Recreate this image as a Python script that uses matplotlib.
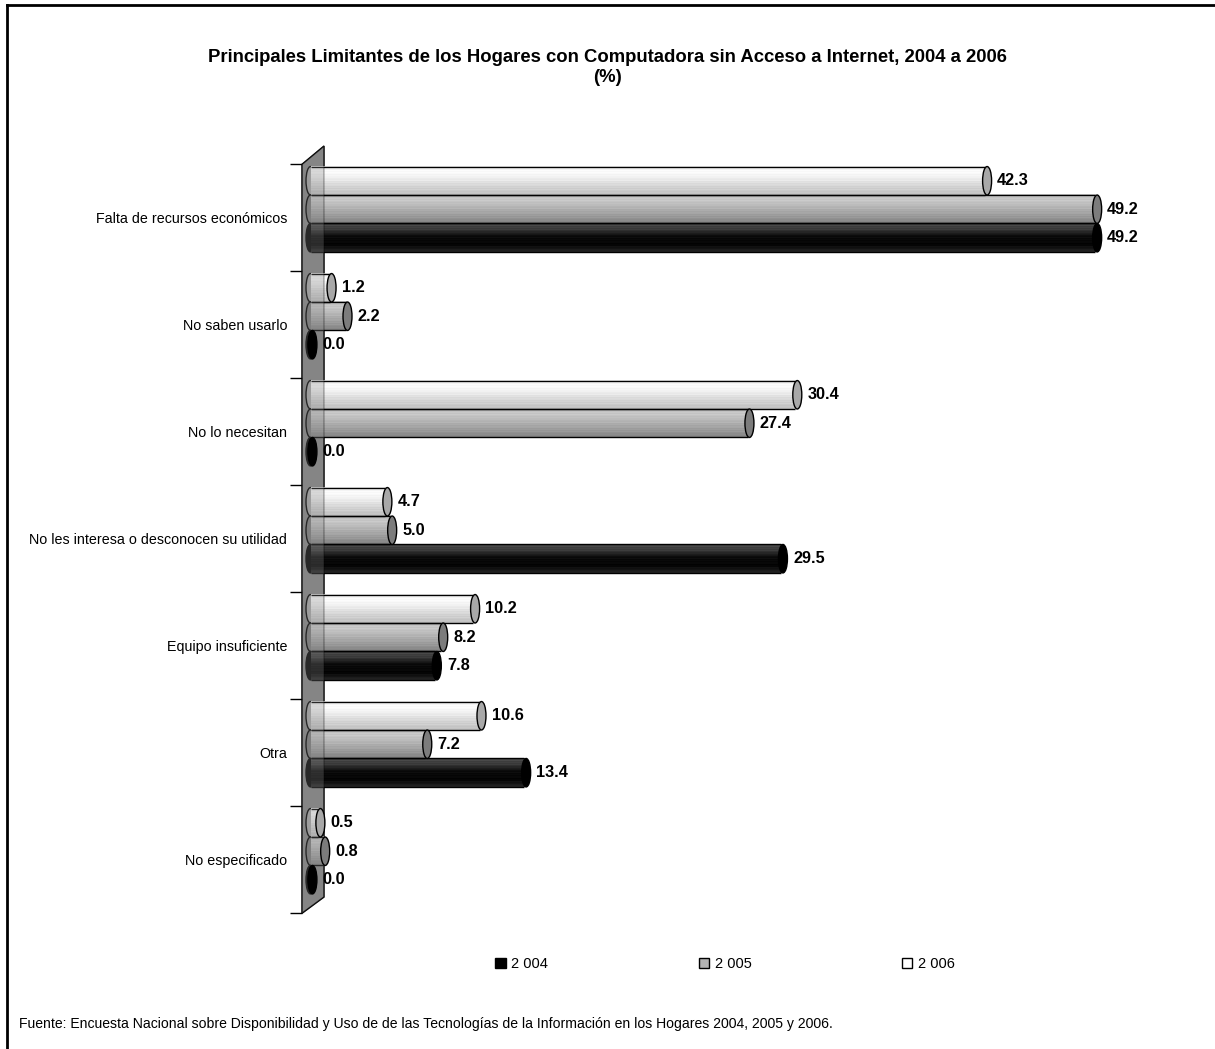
import numpy as np
import matplotlib
matplotlib.use("Agg")
import matplotlib.pyplot as plt
from matplotlib.patches import Ellipse, Polygon, Patch
from matplotlib.lines import Line2D

plt.rcParams['font.family'] = ['Liberation Sans', 'DejaVu Sans']

# --- data -------------------------------------------------------------
categorias = ["Falta de recursos económicos", "No saben usarlo", "No lo necesitan",
              "No les interesa o desconocen su utilidad", "Equipo insuficiente",
              "Otra", "No especificado"]
anios = ["2 004", "2 005", "2 006"]
v2004 = [49.2, 0.0, 0.0, 29.5, 7.8, 13.4, 0.0]
v2005 = [49.2, 2.2, 27.4, 5.0, 8.2, 7.2, 0.8]
v2006 = [42.3, 1.2, 30.4, 4.7, 10.2, 10.6, 0.5]

titulo = "Principales Limitantes de los Hogares con Computadora sin Acceso a Internet, 2004 a 2006"
subtitulo = "(%)"
fuente = ("Fuente: Encuesta Nacional sobre Disponibilidad y Uso de de las Tecnologías "
          "de la Información en los Hogares 2004, 2005 y 2006.")

W, H = 1215, 1049
fig = plt.figure(figsize=(W / 100, H / 100), dpi=100)

def fx(px):
    return px / W

def fy(py):
    return 1 - py / H

# plot area in pixels: zero of the value axis at x=310.5, 15.95 px per unit,
# 107 px per category
x_left, x_right, y_top, y_bot = 290, 1200, 140, 935
ax = fig.add_axes([fx(x_left), fy(y_bot), fx(x_right - x_left), (y_bot - y_top) / H])

# series drawn per category from top to bottom: 2006, 2005, 2004
h = 0.266
series = [
    # values, offset, shading stops, cap colour, legend face
    (v2006, -0.346, [(0, .96), (.2, 1.0), (.45, .93), (.7, .84), (1, .76)], '#a8a8a8', 'white'),
    (v2005, -0.080, [(0, .80), (.25, .78), (.5, .70), (.75, .62), (1, .52)], '#7c7c7c', '#b4b4b4'),
    (v2004, 0.186, [(0, .30), (.2, .24), (.45, .05), (.75, .02), (1, .16)], '#000000', 'black'),
]

def shade(stops, n=48):
    t = np.linspace(0, 1, n)
    g = np.interp(t, [s[0] for s in stops], [s[1] for s in stops])
    # thin horizontal streaks like the old office renderer
    streak = np.where(np.arange(n) % 4 == 1, -0.05, 0.0) + np.where(np.arange(n) % 7 == 3, 0.04, 0.0)
    return np.clip(g + streak, 0, 1).reshape(-1, 1)

cap_w = 9 / 15.95
pos = np.arange(len(categorias))

# side wall behind the bars
wall_pts = [(-0.533, -0.5), (0.846, -0.671), (0.846, 6.348), (-0.533, 6.5)]
ax.add_patch(Polygon(wall_pts, closed=True, facecolor='#858585', edgecolor='black', lw=1, zorder=1))

for vals, off, stops, cap, _ in series:
    ys = pos + off
    bars = ax.barh(ys, vals, height=h, color='none', edgecolor='none', zorder=3)
    img = shade(stops)
    for rect, v in zip(bars, vals):
        y0 = rect.get_y()
        y1 = y0 + rect.get_height()
        yc = (y0 + y1) / 2
        wdt = rect.get_width()
        # base of the cylinder
        ax.add_patch(Ellipse((0, yc), cap_w, h, facecolor=cap, edgecolor='black', lw=1, zorder=2))
        if wdt > 0:
            ax.imshow(img, cmap='gray', vmin=0, vmax=1, aspect='auto', origin='upper',
                      extent=(0, wdt, y1, y0), interpolation='bilinear', zorder=3)
            ax.hlines([y0, y1], 0, wdt, colors='black', lw=1, zorder=3.5)
        # top of the cylinder
        ax.add_patch(Ellipse((wdt + 0.12, yc), cap_w, h, facecolor=cap, edgecolor='black',
                             lw=1, zorder=5.5))
        ax.annotate(f"{v:.1f}", (wdt, yc), xytext=(12, 0), textcoords='offset pixels',
                    ha='left', va='center', fontsize=11.7, fontweight='bold', zorder=6)

# wall seen through the front of the bars
ax.add_patch(Polygon(wall_pts, closed=True, facecolor='#858585', edgecolor='black',
                     lw=1, alpha=0.3, zorder=5))

ax.set_xlim((x_left - 310.5) / 15.95, (x_right - 310.5) / 15.95)
ax.set_ylim(-0.5 + (y_bot - 164.3) / 107, -0.5 - (164.3 - y_top) / 107)
for s in ax.spines.values():
    s.set_visible(False)
ax.set_xticks([])
ax.set_yticks(np.arange(-0.5, len(categorias), 1.0))
ax.set_yticklabels([])
ax.tick_params(axis='y', which='major', direction='in', length=12 * 0.72, width=1, color='black')
ax.set_yticks(pos, categorias, minor=True)
ax.tick_params(axis='y', which='minor', length=0, pad=2, labelsize=10.25)

# legend
handles = [Patch(facecolor=s[4], edgecolor='black', lw=1) for s in series[::-1]]
fig.legend(handles, anios, loc='center', bbox_to_anchor=(fx(725), fy(964)), ncol=3,
           frameon=False, fontsize=10.5, handlelength=0.7, handleheight=0.7,
           handletextpad=0.4, columnspacing=10.3)

fig.text(fx(607), fy(57), titulo, ha='center', va='center', fontsize=13.3, fontweight='bold')
fig.text(fx(607), fy(77), subtitulo, ha='center', va='center', fontsize=13.3, fontweight='bold')
fig.text(fx(19), fy(1024), fuente, ha='left', va='center', fontsize=10.1)

# frame lines along the top and left edges
fig.add_artist(Line2D([fx(7), 1], [fy(5), fy(5)], color='black', lw=2, transform=fig.transFigure))
fig.add_artist(Line2D([fx(7), fx(7)], [fy(5), 0], color='black', lw=2, transform=fig.transFigure))

fig.savefig("out.png", dpi=100)
